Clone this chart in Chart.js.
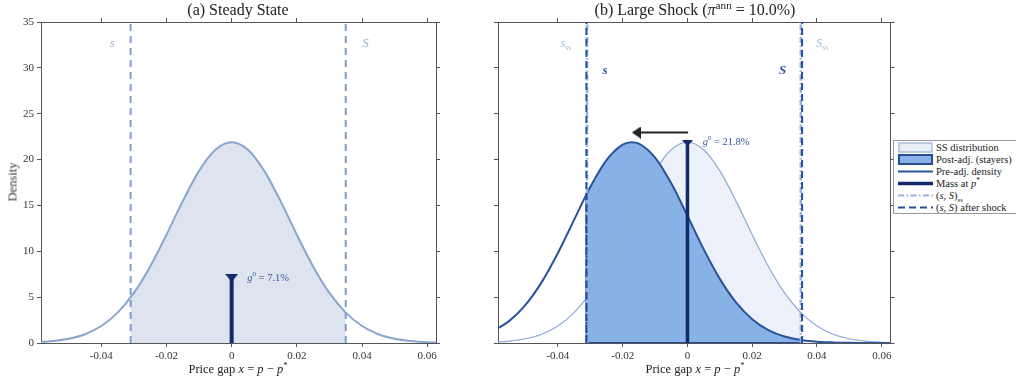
<!DOCTYPE html>
<html>
<head>
<meta charset="utf-8">
<script src="https://cdn.jsdelivr.net/npm/chart.js@4.4.0/dist/chart.umd.min.js"></script>
<style>
body { margin: 0; background: #fff; width: 1016px; height: 385px; position: relative; overflow: hidden;
       font-family: "Liberation Serif", "DejaVu Serif", serif; color: #222; }
canvas { position: absolute; top: 0; }
#chartA { left: 0; }
#chartB { left: 460px; }
.title { position: absolute; top: 1px; font-size: 16px; line-height: 18px; transform: translateX(-50%); white-space: nowrap; }
.xlab { position: absolute; top: 362px; font-size: 12.5px; line-height: 15px; transform: translateX(-50%); white-space: nowrap; }
.ylab { position: absolute; left: 13px; top: 182px; font-size: 12.5px; font-weight: normal; color: #333;
        transform: translate(-50%, -50%) rotate(-90deg); white-space: nowrap; }
sup { font-size: 70%; line-height: 0; }
sub { font-size: 65%; line-height: 0; }
#legend { position: absolute; left: 893px; top: 140px; width: 130px; height: 74px; border: 1px solid #999;
          background: #fff; font-size: 10.5px; box-sizing: border-box; }
#legend .row { height: 12px; display: flex; align-items: center; white-space: nowrap; }
#legend svg { margin-left: 4px; margin-right: 3px; flex: none; }
</style>
</head>
<body>
<canvas id="chartA" width="460" height="385"></canvas>
<canvas id="chartB" width="440" height="385"></canvas>

<div class="title" style="left:238px">(a) Steady State</div>
<div class="title" style="left:695px">(b) Large Shock (<i>π</i><sup>ann</sup> = 10.0%)</div>
<div class="xlab" style="left:238px">Price gap <i>x</i> = <i>p</i> − <i>p</i><sup>*</sup></div>
<div class="xlab" style="left:695px">Price gap <i>x</i> = <i>p</i> − <i>p</i><sup>*</sup></div>
<div class="ylab">Density</div>

<div id="legend">
  <div class="row"><svg width="35" height="11"><rect x="1" y="1" width="33" height="9" fill="#e9eff8" stroke="#a6bfe0" stroke-width="1.5"/></svg><span>SS distribution</span></div>
  <div class="row"><svg width="35" height="11"><rect x="1" y="1" width="33" height="9" fill="#88b2e5" stroke="#234e96" stroke-width="2"/></svg><span>Post-adj. (stayers)</span></div>
  <div class="row"><svg width="35" height="11"><line x1="0" y1="5.5" x2="35" y2="5.5" stroke="#2a5399" stroke-width="2"/></svg><span>Pre-adj. density</span></div>
  <div class="row"><svg width="35" height="11"><line x1="0" y1="5.5" x2="35" y2="5.5" stroke="#102a6c" stroke-width="3.5"/></svg><span>Mass at <i>p</i><sup>*</sup></span></div>
  <div class="row"><svg width="35" height="11"><line x1="0" y1="5.5" x2="35" y2="5.5" stroke="#93b1d9" stroke-width="2" stroke-dasharray="6 2.5 1.5 2.5"/></svg><span>(<i>s</i>, <i>S</i>)<sub>ss</sub></span></div>
  <div class="row"><svg width="35" height="11"><line x1="0" y1="5.5" x2="35" y2="5.5" stroke="#23509b" stroke-width="2" stroke-dasharray="7 4"/></svg><span>(<i>s</i>, <i>S</i>) after shock</span></div>
</div>

<script>
const FONT = '"Liberation Serif", "DejaVu Serif", serif';
Chart.defaults.font.family = FONT;

// price-gap grid and steady-state density
const xGrid = [-0.06, -0.055, -0.05, -0.045, -0.04, -0.035, -0.03, -0.025, -0.02, -0.015, -0.01, -0.005, 0,
               0.005, 0.01, 0.015, 0.02, 0.025, 0.03, 0.035, 0.04, 0.045, 0.05, 0.055, 0.06, 0.065];
const ssDensity = [0.08, 0.21, 0.46, 0.96, 1.85, 3.31, 5.46, 8.35, 11.81, 15.47, 18.77, 21.07, 21.9,
                   21.07, 18.77, 15.47, 11.81, 8.35, 5.46, 3.31, 1.85, 0.96, 0.46, 0.21, 0.08, 0.03];

// steady-state inaction band and density inside it
const sSS = -0.031, bigSSS = 0.035;
const ssInnerX = [-0.031, -0.03, -0.025, -0.02, -0.015, -0.01, -0.005, 0, 0.005, 0.01, 0.015, 0.02, 0.025, 0.03, 0.035];
const ssInnerY = [4.97, 5.46, 8.35, 11.81, 15.47, 18.77, 21.07, 21.9, 21.07, 18.77, 15.47, 11.81, 8.35, 5.46, 3.31];

// shock: pre-adjustment density (shifted left)
const preX = [-0.06, -0.055, -0.05, -0.045, -0.04, -0.035, -0.03, -0.025, -0.02, -0.0172, -0.015, -0.01, -0.005, 0,
              0.005, 0.01, 0.015, 0.02, 0.025, 0.03, 0.035, 0.04, 0.045, 0.05, 0.055, 0.06, 0.065];
const preY = [1.30, 2.41, 4.16, 6.64, 9.82, 13.43, 17.01, 19.94, 21.64, 21.90, 21.74, 20.22, 17.41, 13.87,
              10.24, 6.99, 4.42, 2.59, 1.40, 0.70, 0.33, 0.14, 0.06, 0.02, 0.01, 0.0, 0.0];

// after-shock band and stayers
const sNew = -0.0312, bigSNew = 0.0354;
const postX = [-0.0312, -0.03, -0.025, -0.02, -0.0172, -0.015, -0.01, -0.005, 0, 0.005, 0.01, 0.015, 0.02, 0.025, 0.03, 0.0354];
const postY = [16.18, 17.01, 19.94, 21.64, 21.90, 21.74, 20.22, 17.41, 13.87, 10.24, 6.99, 4.42, 2.59, 1.40, 0.70, 0.31];

// mass at p*
const g0Left = 7.1, g0Right = 21.8;

// shift arrow
const arrowX = [0.0002, -0.0158];
const arrowY = [22.95, 22.95];

const xTicks = [-0.04, -0.02, 0, 0.02, 0.04, 0.06];
const yTicks = [0, 5, 10, 15, 20, 25, 30, 35];
const X_MIN = -0.0585, X_MAX = 0.0627;

const pts = (xs, ys) => xs.map((x, i) => ({ x: x, y: ys[i] }));
const vline = x => [{ x: x, y: 0 }, { x: x, y: 35 }];

function marker(w, h, dir, color) {
    const c = document.createElement('canvas');
    c.width = w; c.height = h;
    const g = c.getContext('2d');
    g.fillStyle = color;
    g.beginPath();
    if (dir === 'down') { g.moveTo(0, 0); g.lineTo(w, 0); g.lineTo(w / 2, h); }
    else { g.moveTo(0, h / 2); g.lineTo(w, 0); g.lineTo(w, h); }
    g.closePath();
    g.fill();
    return c;
}

const notes = {
    id: 'notes',
    afterDatasetsDraw(chart, args, opts) {
        const ctx = chart.ctx, xs = chart.scales.x, ys = chart.scales.y;
        (opts.items || []).forEach(it => {
            let px = xs.getPixelForValue(it.x);
            const py = ys.getPixelForValue(it.y);
            ctx.save();
            ctx.fillStyle = it.color;
            ctx.textBaseline = 'middle';
            ctx.textAlign = 'left';
            it.parts.forEach(p => {
                const size = p.sup || p.sub ? it.size * 0.65 : it.size;
                ctx.font = (p.it ? 'italic ' : '') + (it.bold ? 'bold ' : '') + size + 'px ' + FONT;
                const dy = p.sup ? -it.size * 0.38 : (p.sub ? it.size * 0.3 : 0);
                ctx.fillText(p.t, px, py + dy);
                px += ctx.measureText(p.t).width;
            });
            ctx.restore();
        });
    }
};

function scales(yWidth, rightWidth, showYLabels) {
    const grid = { drawOnChartArea: false, tickLength: 4, color: '#555' };
    const border = { color: '#555', width: 1 };
    const setX = s => { s.ticks = xTicks.map(v => ({ value: v })); };
    const setY = s => { s.ticks = yTicks.map(v => ({ value: v })); };
    return {
        x: {
            type: 'linear', position: 'bottom', min: X_MIN, max: X_MAX,
            afterBuildTicks: setX, afterFit: s => { s.height = 42; },
            grid: grid, border: border,
            ticks: { font: { family: FONT, size: 11 }, color: '#333', padding: 3, maxRotation: 0, autoSkip: false,
                     callback: v => v === 0 ? '0' : v.toFixed(2) }
        },
        xTop: {
            type: 'linear', position: 'top', min: X_MIN, max: X_MAX,
            afterBuildTicks: setX, afterFit: s => { s.height = 4; },
            grid: grid, border: border, ticks: { callback: () => '' }
        },
        y: {
            type: 'linear', position: 'left', min: 0, max: 35,
            afterBuildTicks: setY, afterFit: s => { s.width = yWidth; },
            grid: grid, border: border,
            ticks: { font: { family: FONT, size: 11 }, color: '#333', padding: 3,
                     callback: v => showYLabels ? String(v) : '' }
        },
        yRight: {
            type: 'linear', position: 'right', min: 0, max: 35,
            afterBuildTicks: setY, afterFit: s => { s.width = rightWidth; },
            grid: grid, border: border, ticks: { callback: () => '' }
        }
    };
}

function baseOptions(yWidth, rightWidth, rightPad, showYLabels, noteItems) {
    return {
        responsive: false,
        animation: false,
        devicePixelRatio: 1,
        layout: { padding: { left: 0, right: rightPad, top: 18, bottom: 0 } },
        elements: { point: { radius: 0, hoverRadius: 0 }, line: { tension: 0 } },
        events: [],
        scales: scales(yWidth, rightWidth, showYLabels),
        plugins: { legend: { display: false }, tooltip: { enabled: false }, notes: { items: noteItems } }
    };
}

// (a) steady state
new Chart(document.getElementById('chartA'), {
    type: 'line',
    data: {
        datasets: [
            { data: pts(ssInnerX, ssInnerY), fill: 'origin', backgroundColor: '#dde4f0', borderWidth: 0,
              cubicInterpolationMode: 'monotone', order: 10 },
            { data: pts(xGrid, ssDensity), borderColor: '#89a6ce', borderWidth: 2, fill: false,
              cubicInterpolationMode: 'monotone', order: 8 },
            { data: vline(sSS), borderColor: '#7f9dc5', borderWidth: 2, borderDash: [7, 5], order: 6 },
            { data: vline(bigSSS), borderColor: '#7f9dc5', borderWidth: 2, borderDash: [7, 5], order: 6 },
            { data: [{ x: 0, y: 0 }, { x: 0, y: g0Left }], borderColor: '#102a6c', borderWidth: 4,
              pointRadius: [0, 6], pointStyle: marker(13, 8, 'down', '#102a6c'), order: 2 }
        ]
    },
    options: baseOptions(41, 4, 20, true, [
        { x: -0.0374, y: 32.6, color: '#9db4d6', size: 13, parts: [{ t: 's', it: true }] },
        { x: 0.0401, y: 32.6, color: '#9db4d6', size: 13, parts: [{ t: 'S', it: true }] },
        { x: 0.0048, y: 7.1, color: '#3b5a9c', size: 10.5,
          parts: [{ t: 'g', it: true }, { t: '0', sup: true }, { t: ' = 7.1%' }] }
    ]),
    plugins: [notes]
});

// (b) large shock
new Chart(document.getElementById('chartB'), {
    type: 'line',
    data: {
        datasets: [
            { data: pts(ssInnerX, ssInnerY), fill: 'origin', backgroundColor: '#edf2fa', borderWidth: 0,
              cubicInterpolationMode: 'monotone', order: 10 },
            { data: pts(postX, postY), fill: 'origin', backgroundColor: '#88b2e5', borderWidth: 0,
              cubicInterpolationMode: 'monotone', order: 9 },
            { data: pts(xGrid, ssDensity), borderColor: '#8eabd3', borderWidth: 1.2, fill: false,
              cubicInterpolationMode: 'monotone', order: 8 },
            { data: [{ x: sNew, y: postY[0] }, { x: sNew, y: 0 }, { x: bigSNew, y: 0 }, { x: bigSNew, y: postY[postY.length - 1] }],
              borderColor: '#234e96', borderWidth: 2, order: 7 },
            { data: pts(preX, preY), borderColor: '#2a5399', borderWidth: 2, fill: false,
              cubicInterpolationMode: 'monotone', order: 7 },
            { data: vline(sSS), borderColor: '#93b1d9', borderWidth: 2.5, borderDash: [6, 2.5, 1.5, 2.5], order: 6 },
            { data: vline(bigSSS), borderColor: '#93b1d9', borderWidth: 2.5, borderDash: [6, 2.5, 1.5, 2.5], order: 6 },
            { data: vline(sNew), borderColor: '#23509b', borderWidth: 2, borderDash: [7, 4], order: 5 },
            { data: vline(bigSNew), borderColor: '#23509b', borderWidth: 2, borderDash: [7, 4], order: 5 },
            { data: [{ x: 0, y: 0 }, { x: 0, y: g0Right }], borderColor: '#102a6c', borderWidth: 3.5,
              pointRadius: [0, 6], pointStyle: marker(11, 6, 'down', '#102a6c'), order: 3 },
            { data: pts(arrowX, arrowY), borderColor: '#222', borderWidth: 2,
              pointRadius: [0, 6], pointStyle: marker(9, 12, 'left', '#222'), order: 2 }
        ]
    },
    options: baseOptions(38, 4, 3, false, [
        { x: -0.0392, y: 32.6, color: '#a3bbdd', size: 12, parts: [{ t: 's', it: true }, { t: 'ss', sub: true }] },
        { x: 0.0398, y: 32.6, color: '#a3bbdd', size: 12, parts: [{ t: 'S', it: true }, { t: 'ss', sub: true }] },
        { x: -0.0262, y: 29.7, color: '#2b55a0', size: 13, bold: true, parts: [{ t: 's', it: true }] },
        { x: 0.0283, y: 29.7, color: '#2b55a0', size: 13, bold: true, parts: [{ t: 'S', it: true }] },
        { x: 0.0047, y: 21.9, color: '#3b5a9c', size: 10.5,
          parts: [{ t: 'g', it: true }, { t: '0', sup: true }, { t: ' = 21.8%' }] }
    ]),
    plugins: [notes]
});
</script>
</body>
</html>
